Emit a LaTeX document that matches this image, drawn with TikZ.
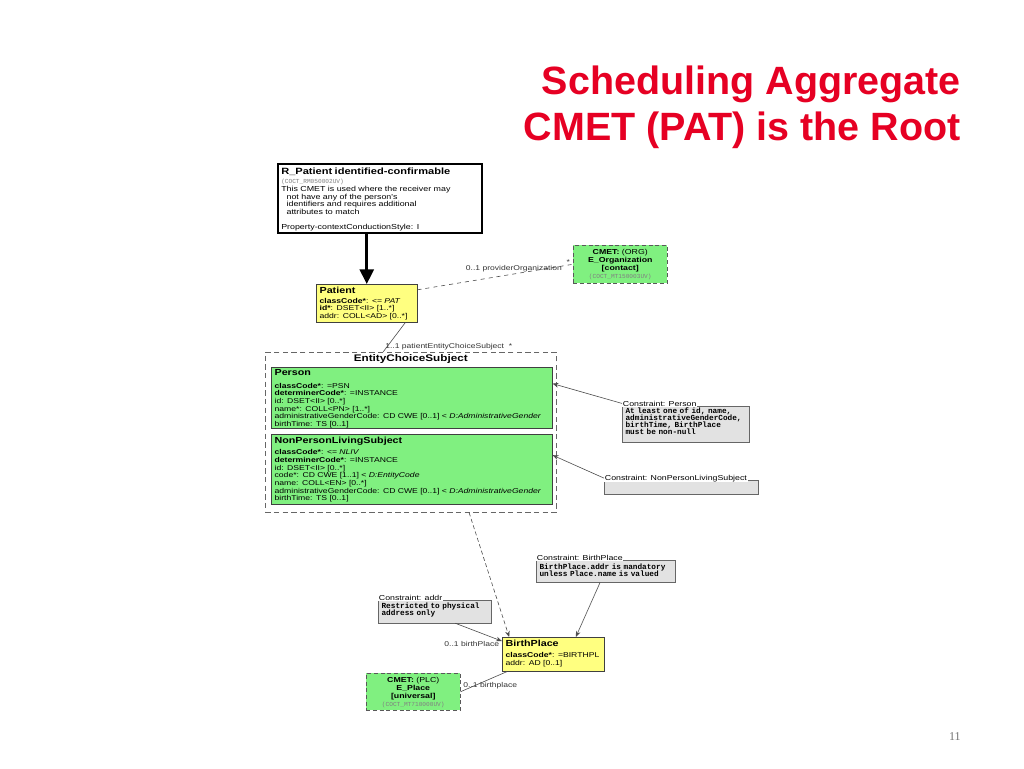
\documentclass[tikz,border=0pt]{standalone}
\usepackage{fontspec}
\setmainfont{Liberation Sans}
\setmonofont{Liberation Mono}
\newfontfamily\umlsans{Liberation Sans}[FakeStretch=1.22]
\newfontfamily\pagefont{Liberation Serif}
\usetikzlibrary{%
	calc,%
	arrows.meta,%
	positioning
}
\definecolor{titlered}{RGB}{230,0,35}
\definecolor{clsyellow}{RGB}{255,255,128}
\definecolor{clsgreen}{RGB}{128,240,128}
\definecolor{cnstgray}{RGB}{226,226,226}
\newcommand{\umlfont}[2]{\umlsans\fontsize{#1}{#2}\selectfont\lineskiplimit=-10pt\relax}
\newcommand{\cnstfont}{\ttfamily\bfseries\fontsize{5.8}{5.25}\selectfont\lineskiplimit=-10pt\relax}
\newcommand{\clsname}[1]{{\fontsize{6.6}{8}\selectfont\bfseries #1}}
\newcommand{\cmetcode}[1]{{\ttfamily\fontsize{4.6}{5}\selectfont\color{black!50}#1}}

\begin{document}
\begin{tikzpicture}
		[x=0.75pt,y=-0.75pt,
		box/.style={draw=black!75,anchor=north west,align=left,inner xsep=2.5pt,inner ysep=1.5pt,font=\umlfont{5.3}{5.75}},
		yelbox/.style={box,fill=clsyellow},
		grnbox/.style={box,fill=clsgreen},
		cmetbox/.style={box,fill=clsgreen,draw=black!65,densely dashed,align=center,font=\umlfont{5.4}{6}},
		cnstbox/.style={box,fill=cnstgray,draw=black!60,font=\cnstfont},
		cnstlbl/.style={anchor=base west,fill=white,inner sep=0.5pt,font=\umlfont{5.4}{6}},
		role/.style={font=\umlfont{5.25}{6},text=black!80,inner sep=0.5pt},
		assoc/.style={draw=black!70,line width=0.45pt},
		tip/.style={-{Stealth[length=4.5pt,width=3.5pt]}}
		]
		
		\useasboundingbox[fill=white] (0,0) rectangle (1024,768);
		
		% title
		\node[anchor=north east,align=right,inner sep=0pt,text=titlered,
			font=\bfseries\fontsize{29.6}{34.5}\selectfont] (title) at (961,66)
			{Scheduling Aggregate\\CMET (PAT) is the Root};
		\node[anchor=base east,inner sep=0pt,text=black!55,font=\pagefont\fontsize{9}{9}\selectfont]
			(pagenum) at (961,740) {11};
		
		% root CMET and patient
		\node[box,draw=black,line width=1.4pt,text width=148pt,text height=6.4pt,text depth=42.3pt,
			font=\umlfont{5.45}{5.7}] (rpat) at (277,163)
			{{\fontsize{6.8}{8}\selectfont\bfseries R\_Patient identified-confirmable}\\[0.7pt]
			\cmetcode{(COCT\_RM050002UV)}\\[0.7pt]
			This CMET is used where the receiver may\\
			\hspace*{4pt}not have any of the person's\\
			\hspace*{4pt}identifiers and requires additional\\
			\hspace*{4pt}attributes to match\\[5.5pt]
			Property-contextConductionStyle: I};
		\node[yelbox,text width=70.75pt,text height=5.2pt,text depth=20.3pt] (pat) at (316,284)
			{\clsname{Patient}\\[1.8pt]
			\textbf{classCode*}: <= \textit{PAT}\\
			\textbf{id*}: DSET<II> [1..*]\\
			addr: COLL<AD> [0..*]};
		\node[cmetbox,text width=65.5pt,text height=5.6pt,text depth=19.9pt] (org) at (573,245)
			{\textbf{CMET:} (ORG)\\
			\textbf{E\_Organization}\\
			\textbf{[contact]}\\
			\cmetcode{(COCT\_MT150003UV)}};
		
		\draw[line width=2.2pt,-{Triangle[length=11pt,width=10.5pt]}] (pat.north |- rpat.south) -- (pat.north);
		\draw[assoc,dashed] ($(pat.north east)!0.15!(pat.south east)$) --
			node[role,above,pos=0.62,yshift=1pt]{0..1 providerOrganization}
			node[role,above,pos=0.97]{*} (org.west);
		
		% entity choice
		\node[box,draw=black!60,dash pattern=on 4pt off 2.5pt,align=center,text width=213.25pt,text height=5.5pt,text depth=111.5pt,
			font=\umlsans\fontsize{7.2}{8}\selectfont\bfseries] (ecs) at (265,352) {EntityChoiceSubject};
		\node[grnbox,text width=205.75pt,text height=4.3pt,text depth=38.4pt] (person) at (271,367)
			{\clsname{Person}\\[4pt]
			\textbf{classCode*}: =PSN\\
			\textbf{determinerCode*}: =INSTANCE\\
			id: DSET<II> [0..*]\\
			name*: COLL<PN> [1..*]\\
			administrativeGenderCode: CD CWE [0..1] < \textit{D:AdministrativeGender}\\
			birthTime: TS [0..1]};
		\node[grnbox,text width=205.75pt,text height=5.6pt,text depth=43.9pt] (npls) at (271,434)
			{\clsname{NonPersonLivingSubject}\\[2.5pt]
			\textbf{classCode*}: <= \textit{NLIV}\\
			\textbf{determinerCode*}: =INSTANCE\\
			id: DSET<II> [0..*]\\
			code*: CD CWE [1..1] < \textit{D:EntityCode}\\
			name: COLL<EN> [0..*]\\
			administrativeGenderCode: CD CWE [0..1] < \textit{D:AdministrativeGender}\\
			birthTime: TS [0..1]};
		
		\draw[assoc] ($(pat.south west)!0.88!(pat.south east)$) -- ($(ecs.north west)!0.405!(ecs.north east)$)
			node[role,anchor=south west,xshift=1pt,yshift=0.5pt]{1..1 patientEntityChoiceSubject \ *};
		
		% constraints
		\node[cnstbox,text width=90.25pt,text height=4.1pt,text depth=19.9pt] (cperson) at (622,406)
			{At least one of id, name,\\administrativeGenderCode,\\birthTime, BirthPlace\\must be non-null};
		\node[cnstlbl] (cpersonlbl) at (cperson.north west) {Constraint: Person};
		\node[cnstbox,text width=110.5pt,text height=0pt,text depth=7.5pt] (cnpls) at (604,480) {};
		\node[cnstlbl] (cnplslbl) at (cnpls.north west) {Constraint: NonPersonLivingSubject};
		\node[cnstbox,text width=99pt,text height=5.25pt,text depth=8.25pt] (cbirth) at (536,560)
			{BirthPlace.addr is mandatory\\unless Place.name is valued};
		\node[cnstlbl] (cbirthlbl) at (cbirth.north west) {Constraint: BirthPlace};
		\node[cnstbox,text width=79.75pt,text height=4.6pt,text depth=9.4pt] (caddr) at (378,600)
			{Restricted to physical\\address only};
		\node[cnstlbl] (caddrlbl) at (caddr.north west) {Constraint: addr};
		
		\draw[assoc,tip] (cpersonlbl.west) -- ($(person.north east)!0.27!(person.south east)$);
		\draw[assoc,tip] (cnplslbl.west) -- ($(npls.north east)!0.3!(npls.south east)$);
		
		% birth place
		\node[yelbox,text width=71.5pt,text height=5.6pt,text depth=16.9pt] (bp) at (502,637)
			{\clsname{BirthPlace}\\[2.5pt]
			\textbf{classCode*}: =BIRTHPL\\
			addr: AD [0..1]};
		\node[cmetbox,text width=65.5pt,text height=5.6pt,text depth=19.1pt] (eplace) at (366,673)
			{\textbf{CMET:} (PLC)\\
			\textbf{E\_Place}\\
			\textbf{[universal]}\\
			\cmetcode{(COCT\_MT710000UV)}};
		
		\draw[assoc,densely dashed,tip] ($(ecs.south west)!0.7!(ecs.south east)$) -- ($(bp.north west)!0.07!(bp.north east)$);
		\draw[assoc,tip] ($(caddr.south west)!0.68!(caddr.south east)$) -- ($(bp.north west)!0.12!(bp.south west)$);
		\draw[assoc,tip] ($(cbirth.south west)!0.46!(cbirth.south east)$) -- ($(bp.north west)!0.72!(bp.north east)$);
		\draw[assoc] (eplace.east) -- ($(bp.south west)!0.05!(bp.south east)$);
		
		\node[role,anchor=east] (bplbl) at ($(bp.north west)+(-2,7)$) {0..1 birthPlace};
		\node[role,anchor=west] (eplbl) at ($(eplace.east)+(2,-6)$) {0..1 birthplace};
	\end{tikzpicture}
\end{document}
